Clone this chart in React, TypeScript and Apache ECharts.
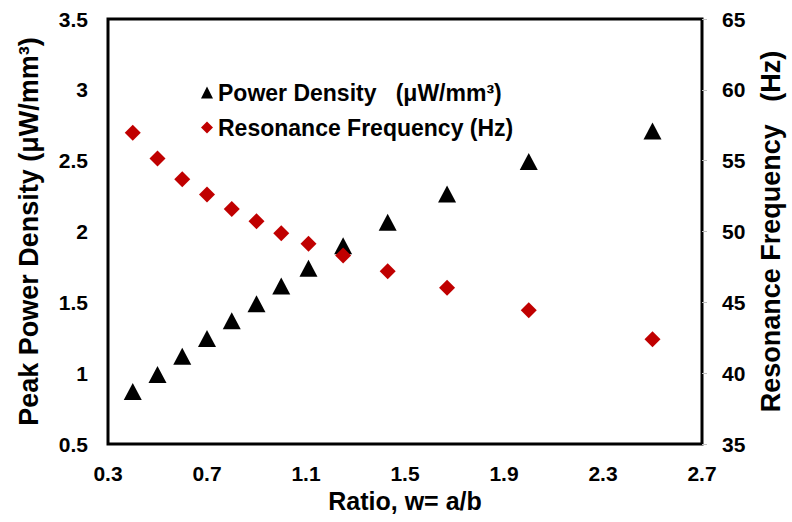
import React, { useEffect, useRef } from "react";
import * as echarts from "echarts";

const ratios = [0.4, 0.5, 0.6, 0.7, 0.8, 0.9, 1.0, 1.11, 1.25, 1.43, 1.67, 2.0, 2.5];
const powerDensity = [0.87, 0.99, 1.12, 1.245, 1.37, 1.49, 1.615, 1.74, 1.9, 2.065, 2.265, 2.495, 2.71];
const resonanceFreq = [56.97, 55.16, 53.69, 52.61, 51.58, 50.72, 49.87, 49.14, 48.3, 47.2, 46.03, 44.44, 42.4];

const powerName = "Power Density   (μW/mm³)";
const freqName = "Resonance Frequency (Hz)";

const FONT = "Liberation Sans, Arial, sans-serif";

export default function App() {
  const ref = useRef<HTMLDivElement>(null);
  useEffect(() => {
    if (!ref.current) return;
    const chart = echarts.init(ref.current, undefined, { renderer: "svg" });
    chart.setOption({
      animation: false,
      backgroundColor: "#ffffff",
      grid: {
        left: 108,
        right: 86,
        top: 19,
        bottom: 78,
        show: true,
        borderColor: "#000000",
        borderWidth: 3,
        backgroundColor: "transparent",
      },
      legend: {
        orient: "vertical",
        left: 196,
        top: 76,
        itemGap: 12,
        itemWidth: 12,
        itemHeight: 12,
        textStyle: { fontFamily: FONT, fontWeight: "bold", fontSize: 23, color: "#000" },
        data: [
          { name: powerName, icon: "triangle" },
          { name: freqName, icon: "diamond" },
        ],
      },
      xAxis: {
        type: "value",
        min: 0.3,
        max: 2.7,
        interval: 0.4,
        name: "Ratio, w= a/b",
        nameLocation: "middle",
        nameGap: 40,
        nameTextStyle: { fontFamily: FONT, fontWeight: "bold", fontSize: 25, color: "#000" },
        axisLine: { show: false },
        axisTick: { show: false },
        splitLine: { show: false },
        axisLabel: {
          fontFamily: FONT,
          fontWeight: "bold",
          fontSize: 21,
          color: "#000",
          margin: 19,
          formatter: (v: number) => v.toFixed(1),
        },
      },
      yAxis: [
        {
          type: "value",
          min: 0.5,
          max: 3.5,
          interval: 0.5,
          position: "left",
          name: "Peak Power Density (μW/mm³)",
          nameLocation: "middle",
          nameGap: 66,
          nameRotate: 90,
          nameTextStyle: { fontFamily: FONT, fontWeight: "bold", fontSize: 27, color: "#000" },
          axisLine: { show: false },
          axisTick: { show: false },
          splitLine: { show: false },
          axisLabel: {
            fontFamily: FONT,
            fontWeight: "bold",
            fontSize: 21,
            color: "#000",
            margin: 20,
          },
        },
        {
          type: "value",
          min: 35,
          max: 65,
          interval: 5,
          position: "right",
          name: "Resonance Frequency   (Hz)",
          nameLocation: "middle",
          nameGap: 55,
          nameRotate: 90,
          nameTextStyle: { fontFamily: FONT, fontWeight: "bold", fontSize: 27, color: "#000" },
          axisLine: { show: false },
          axisTick: { show: true, length: 5, lineStyle: { color: "#bfbfbf", width: 1 } },
          splitLine: { show: false },
          axisLabel: {
            fontFamily: FONT,
            fontWeight: "bold",
            fontSize: 21,
            color: "#000",
            margin: 20,
          },
        },
      ],
      series: [
        {
          name: powerName,
          type: "scatter",
          yAxisIndex: 0,
          symbol: "triangle",
          symbolSize: [18, 17],
          itemStyle: { color: "#000000", opacity: 1 },
          data: ratios.map((r, i) => [r, powerDensity[i]]),
        },
        {
          name: freqName,
          type: "scatter",
          yAxisIndex: 1,
          symbol: "diamond",
          symbolSize: 16,
          itemStyle: { color: "#C00000", opacity: 1 },
          data: ratios.map((r, i) => [r, resonanceFreq[i]]),
        },
      ],
    });
    return () => chart.dispose();
  }, []);
  return <div ref={ref} style={{ width: 792, height: 522, position: "absolute", left: 0, top: 0 }} />;
}
